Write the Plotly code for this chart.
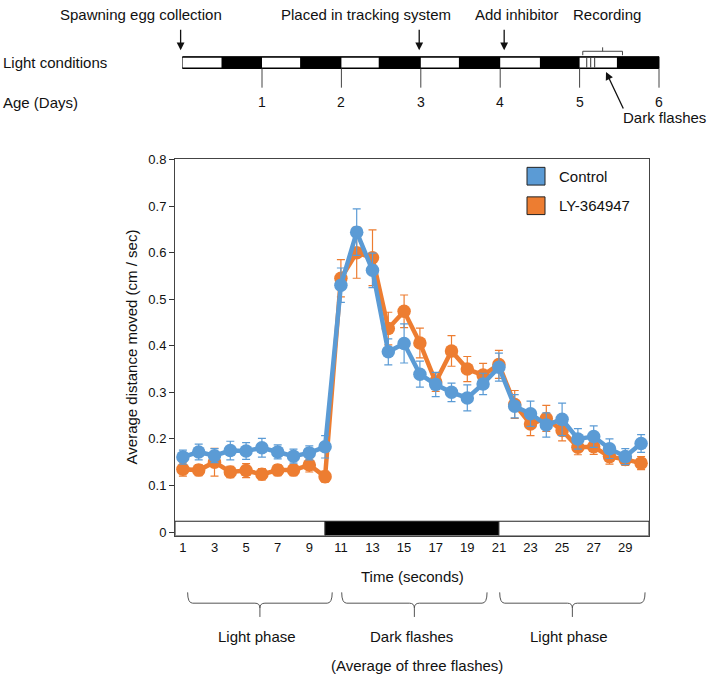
import plotly.graph_objects as go

W, H = 707, 679
FONT = "Liberation Sans, Arial, sans-serif"
TXT = "#111111"

# ---------------- data ----------------
time_s = list(range(1, 31))
control = [0.161, 0.172, 0.164, 0.175, 0.174, 0.181, 0.172, 0.163, 0.170, 0.183,
           0.530, 0.644, 0.562, 0.387, 0.405, 0.339, 0.317, 0.300, 0.288, 0.318,
           0.354, 0.270, 0.254, 0.230, 0.242, 0.200, 0.205, 0.179, 0.162, 0.190]
control_err = [0.015, 0.017, 0.015, 0.020, 0.018, 0.020, 0.015, 0.015, 0.015, 0.024,
               0.037, 0.050, 0.037, 0.028, 0.042, 0.028, 0.026, 0.020, 0.028, 0.023,
               0.030, 0.025, 0.027, 0.026, 0.035, 0.022, 0.023, 0.021, 0.017, 0.019]
ly364947 = [0.135, 0.133, 0.150, 0.129, 0.132, 0.124, 0.133, 0.133, 0.144, 0.119,
            0.545, 0.600, 0.589, 0.437, 0.474, 0.406, 0.322, 0.389, 0.350, 0.337,
            0.360, 0.274, 0.232, 0.244, 0.218, 0.182, 0.183, 0.162, 0.156, 0.148]
ly364947_err = [0.015, 0.012, 0.030, 0.012, 0.015, 0.012, 0.012, 0.012, 0.015, 0.012,
                0.040, 0.055, 0.060, 0.035, 0.035, 0.032, 0.020, 0.033, 0.027, 0.025,
                0.030, 0.030, 0.025, 0.028, 0.022, 0.016, 0.016, 0.016, 0.013, 0.014]

x_tick_vals = list(range(1, 30, 2))
y_tick_vals = [0, 0.1, 0.2, 0.3, 0.4, 0.5, 0.6, 0.7, 0.8]
y_tick_text = ["0", "0.1", "0.2", "0.3", "0.4", "0.5", "0.6", "0.7", "0.8"]

# light / dark phases of the recording (seconds)
phase_bounds = [0.5, 10, 21, 30.5]
phase_fill = ["white", "black", "white"]
phase_labels = ["Light phase", "Dark flashes", "Light phase"]
brace_spans = [(1.3, 10.45), (11.05, 20.25), (21.05, 30.25)]

# experimental timeline (days)
age_days = [1, 2, 3, 4, 5, 6]
light_periods = [(0, 0.49), (1, 1.48), (2, 2.47), (3, 3.48), (4, 4.5), (5, 5.47)]
flash_days = [5.09, 5.14, 5.19]
events = ["Spawning egg collection", "Placed in tracking system", "Add inhibitor"]
event_day = [-0.025, 2.98, 4.05]
event_text_day = [-0.52, 2.31, 4.21]
recording_span = (5.04, 5.54)

BLUE = "#5B9BD5"
ORANGE = "#ED7D31"

# ---------------- helpers (pixel -> paper) ----------------
def PX(px):
    return px / W

def PY(py):
    return 1 - py / H

def day_px(d):
    return 182.6 + 79.4 * d

def t_px(t):
    return 175 + (t - 0.5) * 474 / 30

fig = go.Figure()

for name, vals, err, col in [("LY-364947", ly364947, ly364947_err, ORANGE),
                             ("Control", control, control_err, BLUE)]:
    fig.add_trace(go.Scatter(
        x=time_s, y=vals, name=name, mode="lines+markers",
        line=dict(color=col, width=4.5),
        marker=dict(color=col, size=13.5),
        error_y=dict(type="data", array=err, color=col, thickness=1.2, width=4),
        showlegend=False, hoverinfo="skip",
    ))

shapes = []
annotations = []

# bottom light bar inside plot
for i, fill in enumerate(phase_fill):
    shapes.append(dict(type="rect", xref="x", yref="y",
                       x0=phase_bounds[i], x1=phase_bounds[i + 1],
                       y0=-0.0076, y1=0.0232, fillcolor=fill,
                       line=dict(color="#222", width=1), layer="above"))

# legend
for i, (name, col) in enumerate([("Control", BLUE), ("LY-364947", ORANGE)]):
    y0 = 163 + 30 * i
    shapes.append(dict(type="rect", xref="paper", yref="paper",
                       x0=PX(527), x1=PX(545), y0=PY(y0 + 18), y1=PY(y0),
                       fillcolor=col, line=dict(color="#222", width=1)))
    annotations.append(dict(text=name, xref="paper", yref="paper", x=PX(557), y=PY(y0 + 9),
                            xanchor="left", yanchor="middle", showarrow=False,
                            font=dict(size=15, color=TXT, family=FONT)))

# braces and phase labels
def brace(t0, t1, ytop=595, ymid=606, ytip=620, r=5):
    x0, x1 = t_px(t0), t_px(t1)
    xm = (x0 + x1) / 2
    pts = [("M", x0, ytop), ("Q", x0, ymid, x0 + r, ymid), ("L", xm - r, ymid),
           ("Q", xm, ymid, xm, ymid + r), ("L", xm, ytip), ("M", xm, ymid + r),
           ("Q", xm, ymid, xm + r, ymid), ("L", x1 - r, ymid), ("Q", x1, ymid, x1, ytop)]
    s = ""
    for p in pts:
        cmd = p[0]
        coords = p[1:]
        seg = " ".join(f"{PX(coords[k]):.5f},{PY(coords[k+1]):.5f}" for k in range(0, len(coords), 2))
        s += f"{cmd}{seg} "
    return s.strip(), xm

for (t0, t1), lab in zip(brace_spans, phase_labels):
    path, xm = brace(t0, t1)
    shapes.append(dict(type="path", xref="paper", yref="paper", path=path,
                       line=dict(color="#555", width=1)))
    annotations.append(dict(text=lab, xref="paper", yref="paper", x=PX(xm - 3), y=PY(640),
                            xanchor="center", yanchor="middle", showarrow=False,
                            font=dict(size=15, color=TXT, family=FONT)))

annotations.append(dict(text="(Average of three flashes)", xref="paper", yref="paper",
                        x=PX(417), y=PY(669), xanchor="center", yanchor="middle",
                        showarrow=False, font=dict(size=15, color=TXT, family=FONT)))
annotations.append(dict(text="Time (seconds)", xref="paper", yref="paper",
                        x=PX(412), y=PY(579), xanchor="center", yanchor="middle",
                        showarrow=False, font=dict(size=15, color=TXT, family=FONT)))
annotations.append(dict(text="Average distance moved (cm / sec)", xref="paper", yref="paper",
                        x=PX(131), y=PY(346), xanchor="center", yanchor="middle", textangle=-90,
                        showarrow=False, font=dict(size=15, color=TXT, family=FONT)))

# ---------------- top timeline ----------------
BAR_T, BAR_B = 50.5, 62.5
shapes.append(dict(type="rect", xref="paper", yref="paper",
                   x0=PX(day_px(0)), x1=PX(day_px(6)), y0=PY(BAR_B), y1=PY(BAR_T),
                   fillcolor="black", line=dict(color="black", width=1)))
for d0, d1 in light_periods:
    shapes.append(dict(type="rect", xref="paper", yref="paper",
                       x0=PX(day_px(d0)), x1=PX(day_px(d1)), y0=PY(BAR_B - 1), y1=PY(BAR_T + 1),
                       fillcolor="white", line=dict(width=0)))
for d in flash_days:
    shapes.append(dict(type="line", xref="paper", yref="paper",
                       x0=PX(day_px(d)), x1=PX(day_px(d)), y0=PY(BAR_B - 1), y1=PY(BAR_T + 1),
                       line=dict(color="#333", width=1)))
for d in age_days:
    shapes.append(dict(type="line", xref="paper", yref="paper",
                       x0=PX(day_px(d)), x1=PX(day_px(d)), y0=PY(BAR_B), y1=PY(82),
                       line=dict(color="#444", width=1)))
    annotations.append(dict(text=str(d), xref="paper", yref="paper", x=PX(day_px(d)), y=PY(97),
                            xanchor="center", yanchor="middle", showarrow=False,
                            font=dict(size=14, color=TXT, family=FONT)))

# recording bracket
r0, r1 = day_px(recording_span[0]), day_px(recording_span[1])
rm = (r0 + r1) / 2
shapes.append(dict(type="path", xref="paper", yref="paper",
                   path=(f"M{PX(r0):.5f},{PY(49):.5f} L{PX(r0):.5f},{PY(45):.5f} "
                         f"L{PX(r1):.5f},{PY(45):.5f} L{PX(r1):.5f},{PY(49):.5f} "
                         f"M{PX(rm):.5f},{PY(45):.5f} L{PX(rm):.5f},{PY(41):.5f}"),
                   line=dict(color="#444", width=1)))
annotations.append(dict(text="Recording", xref="paper", yref="paper", x=PX(607), y=PY(8),
                        xanchor="center", yanchor="middle", showarrow=False,
                        font=dict(size=15, color=TXT, family=FONT)))

for ev, d, td in zip(events, event_day, event_text_day):
    annotations.append(dict(text=ev, xref="paper", yref="paper", x=PX(day_px(td)), y=PY(8),
                            xanchor="center", yanchor="middle", showarrow=False,
                            font=dict(size=15, color=TXT, family=FONT)))
    annotations.append(dict(text="", xref="paper", yref="paper", x=PX(day_px(d)), y=PY(44),
                            ax=0, ay=-22, showarrow=True, arrowhead=2, arrowsize=1.2,
                            arrowwidth=1.3, arrowcolor="#111", standoff=0))

annotations.append(dict(text="", xref="paper", yref="paper", x=PX(606), y=PY(66),
                        ax=18, ay=38, showarrow=True, arrowhead=2, arrowsize=1.2,
                        arrowwidth=1.3, arrowcolor="#111", standoff=0))
annotations.append(dict(text="Dark flashes", xref="paper", yref="paper", x=PX(621), y=PY(112),
                        xanchor="left", yanchor="middle", showarrow=False,
                        font=dict(size=15, color=TXT, family=FONT)))
annotations.append(dict(text="Light conditions", xref="paper", yref="paper", x=PX(1), y=PY(56),
                        xanchor="left", yanchor="middle", showarrow=False,
                        font=dict(size=15, color=TXT, family=FONT)))
annotations.append(dict(text="Age (Days)", xref="paper", yref="paper", x=PX(1), y=PY(97),
                        xanchor="left", yanchor="middle", showarrow=False,
                        font=dict(size=15, color=TXT, family=FONT)))

fig.update_layout(
    width=W, height=H,
    margin=dict(l=0, r=0, t=0, b=0),
    paper_bgcolor="white", plot_bgcolor="white",
    showlegend=False,
    hovermode=False,
    font=dict(family=FONT, color=TXT),
    xaxis=dict(domain=[175 / W, 649 / W], range=[0.5, 30.5], tickvals=x_tick_vals,
               ticks="", showline=True, mirror=True, linecolor="#444", linewidth=1,
               showgrid=False, zeroline=False, tickfont=dict(size=13, color=TXT)),
    yaxis=dict(domain=[1 - 537.3 / H, 1 - 155 / H], range=[-0.0076, 0.8],
               tickvals=y_tick_vals, ticktext=y_tick_text, ticks="outside", ticklen=5,
               tickcolor="#333", showline=True, mirror=True, linecolor="#444", linewidth=1,
               showgrid=False, zeroline=False, tickfont=dict(size=13, color=TXT)),
    shapes=shapes,
    annotations=annotations,
)

page_fix = ("document.documentElement.style.margin='0';document.body.style.margin='0';"
            "document.body.style.padding='0';document.body.style.overflow='hidden';"
            "var gd=document.getElementById('{plot_id}');gd.style.position='fixed';"
            "gd.style.top='0px';gd.style.left='0px';")

fig.write_html("out.html", config={"displayModeBar": False, "staticPlot": True},
               post_script=page_fix)
